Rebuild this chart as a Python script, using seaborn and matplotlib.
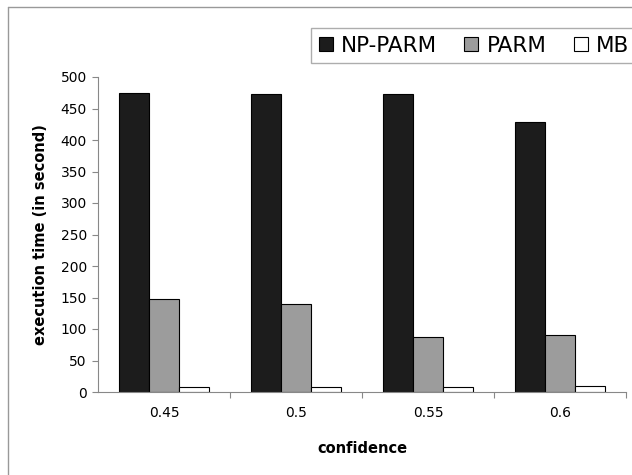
import matplotlib
matplotlib.use("Agg")
import matplotlib.pyplot as plt
import seaborn as sns
import pandas as pd
from matplotlib.lines import Line2D
from matplotlib.patches import Patch

confidence = ["0.45", "0.5", "0.55", "0.6"]
np_parm = [475, 473, 473, 428]
parm = [147, 140, 88, 91]
mb = [8, 8, 8, 9]
series = ["NP-PARM", "PARM", "MB"]
colors = ["#1c1c1c", "#9c9c9c", "#ffffff"]

df = pd.DataFrame({
    "confidence": confidence * 3,
    "time": np_parm + parm + mb,
    "series": [s for s in series for _ in confidence],
})

sns.set_theme(style="white")
plt.rcParams["font.family"] = ["DejaVu Sans"]
plt.rcParams["text.color"] = "black"
plt.rcParams["axes.labelcolor"] = "black"
plt.rcParams["xtick.labelcolor"] = "black"
plt.rcParams["ytick.labelcolor"] = "black"

fig = plt.figure(figsize=(6.32, 4.75), dpi=100)
L, R, T, B = 98, 626, 77, 392
ax = fig.add_axes([L / 632, 1 - B / 475, (R - L) / 632, (B - T) / 475])

sns.barplot(data=df, x="confidence", y="time", hue="series", hue_order=series,
            palette=colors, width=0.675, gap=0, edgecolor="black", linewidth=0.8,
            legend=False, ax=ax)

ax.set_xlim(-0.5, 3.5)
ax.set_ylim(0, 500)
ax.set_yticks(range(0, 501, 50))
ax.tick_params(axis="y", length=4, width=0.8, color="#888888", direction="out",
               labelsize=10, pad=4, left=True, labelcolor="black")
ax.tick_params(axis="x", which="major", length=0, labelsize=10, pad=10, labelcolor="black")
ax.set_xticks([0.5, 1.5, 2.5, 3.5], minor=True)
ax.tick_params(axis="x", which="minor", length=4, width=0.8, color="#888888",
               direction="out", bottom=True)
for s in ["top", "right"]:
    ax.spines[s].set_visible(False)
for s in ["left", "bottom"]:
    ax.spines[s].set_color("#888888")
    ax.spines[s].set_linewidth(0.8)

ax.set_xlabel("confidence", fontsize=10.5, fontweight="bold", labelpad=15, color="black")
ax.set_ylabel("execution time (in second)", fontsize=10.5, fontweight="bold", labelpad=9,
              color="black")

# outer chart frame
fig.add_artist(Line2D([8 / 632, 8 / 632], [0, 1 - 7 / 475], transform=fig.transFigure,
                      color="#999999", linewidth=1.0))
fig.add_artist(Line2D([8 / 632, 1.0], [1 - 7 / 475, 1 - 7 / 475], transform=fig.transFigure,
                      color="#999999", linewidth=1.0))

handles = [Patch(facecolor=c, edgecolor="black", linewidth=0.8) for c in colors]
leg = fig.legend(handles, series, loc="upper left",
                 bbox_to_anchor=(311 / 632, 1 - 28 / 475), ncol=3, fontsize=15.5,
                 frameon=True, fancybox=False, edgecolor="#999999",
                 handlelength=0.65, handleheight=0.65, handletextpad=0.4,
                 columnspacing=1.25, borderpad=0.35, borderaxespad=0)
leg.get_frame().set_linewidth(1.0)
for t in leg.get_texts():
    t.set_color("black")

fig.savefig("out.png", dpi=100)
